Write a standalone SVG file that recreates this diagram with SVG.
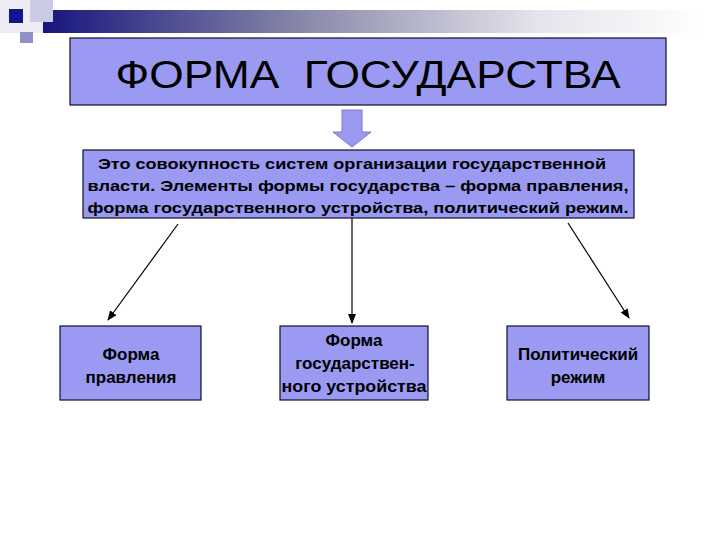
<svg xmlns="http://www.w3.org/2000/svg" width="720" height="540" viewBox="0 0 720 540">
<defs>
<linearGradient id="band" x1="0" y1="0" x2="1" y2="0">
<stop offset="0" stop-color="#16167e"/>
<stop offset="0.4" stop-color="#8a8aaa"/>
<stop offset="0.75" stop-color="#e4e4ec"/>
<stop offset="1" stop-color="#ffffff"/>
</linearGradient>
<marker id="ah" markerWidth="10" markerHeight="8" refX="9" refY="4" orient="auto" markerUnits="userSpaceOnUse">
<path d="M0,0 L10,4 L0,8 Z" fill="#000"/>
</marker>
<style>
.box{fill:#9a9af2;stroke:#101030;stroke-width:1.2}
.t{font-family:"Liberation Sans",Arial,sans-serif;fill:#000;text-anchor:middle}
.b{font-weight:bold;font-size:15px}
.n{font-weight:bold;font-size:17px}
.c{stroke:#000;stroke-width:1.2;fill:none;marker-end:url(#ah)}
</style>
</defs>
<rect width="720" height="540" fill="#fff"/>
<g id="decor">
<rect x="43" y="10" width="660" height="23" fill="url(#band)"/>
<rect x="0" y="0" width="43" height="33" fill="#ececf4"/>
<rect x="30" y="0" width="23" height="22" fill="#cacae2"/>
<rect x="9" y="9" width="14" height="14" fill="#14148c"/>
<rect x="20" y="32" width="13" height="11" fill="#9090c8"/>
</g>
<g id="title">
<rect class="box" x="70" y="38" width="596" height="67"/>
<text class="t" x="368" y="88" font-size="39" xml:space="preserve" style="white-space:pre" textLength="505" lengthAdjust="spacingAndGlyphs">ФОРМА  ГОСУДАРСТВА</text>
</g>
<g id="downarrow">
<path d="M342,110 H362 V132 H371 L352,147 L333,132 H342 Z" fill="#9a9af2" stroke="#7a7acc" stroke-width="1"/>
</g>
<g id="definition">
<rect class="box" x="83" y="150" width="551" height="68"/>
<text class="t b" x="352" y="169" textLength="508" lengthAdjust="spacingAndGlyphs">Это совокупность систем организации государственной</text>
<text class="t b" x="358" y="191" textLength="541" lengthAdjust="spacingAndGlyphs">власти. Элементы формы государства – форма правления,</text>
<text class="t b" x="358" y="213" textLength="541" lengthAdjust="spacingAndGlyphs">форма государственного устройства, политический режим.</text>
</g>
<g id="connectors">
<line class="c" x1="178" y1="224" x2="108" y2="320"/>
<line class="c" x1="352" y1="218" x2="352" y2="323"/>
<line class="c" x1="568" y1="223" x2="629" y2="318"/>
</g>
<g id="node-pravlenie">
<rect class="box" x="60" y="326" width="141" height="74"/>
<text class="t n" x="131" y="360">Форма</text>
<text class="t n" x="131" y="383">правления</text>
</g>
<g id="node-ustroystvo">
<rect class="box" x="280" y="326" width="148" height="74"/>
<text class="t n" x="354" y="346">Форма</text>
<text class="t n" x="355" y="369">государствен-</text>
<text class="t n" x="354" y="392" textLength="145" lengthAdjust="spacingAndGlyphs">ного устройства</text>
</g>
<g id="node-rezhim">
<rect class="box" x="507" y="326" width="142" height="74"/>
<text class="t n" x="578" y="360">Политический</text>
<text class="t n" x="578" y="383">режим</text>
</g>
</svg>
